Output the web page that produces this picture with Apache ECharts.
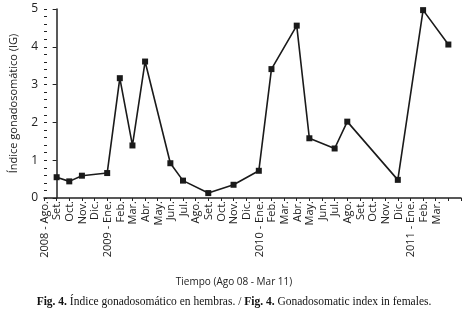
<!DOCTYPE html>
<html>
<head>
<meta charset="utf-8">
<script src="https://cdn.jsdelivr.net/npm/echarts@6/dist/echarts.min.js"></script>
<style>
  html, body { margin: 0; padding: 0; background: #fff; }
  #chart { width: 468px; height: 313px; }
</style>
</head>
<body>
<div id="chart"></div>
<script>
// month labels, Ago 2008 - Mar 2011
var months = [
  "2008 - Ago.", "Set.", "Oct.", "Nov.", "Dic.",
  "2009 - Ene.", "Feb.", "Mar.", "Abr.", "May.", "Jun.", "Jul.", "Ago.", "Set.", "Oct.", "Nov.", "Dic.",
  "2010 - Ene.", "Feb.", "Mar.", "Abr.", "May.", "Jun.", "Jul.", "Ago.", "Set.", "Oct.", "Nov.", "Dic.",
  "2011 - Ene.", "Feb.", "Mar."
];
// IG per month, null = no sample
var igValues = [
  0.55, 0.44, 0.59, null, 0.66,
  3.17, 1.39, 3.61, null, 0.92, 0.46, null, 0.13, null, 0.35, null, 0.72,
  3.41, null, 4.56, 1.58, null, 1.31, 2.02, null, null, null, 0.48, null,
  4.97, null, 4.06
];
var yTicks = [0, 1, 2, 3, 4, 5];

var points = [];
igValues.forEach(function (v, i) {
  if (v !== null) points.push([i, v]);
});

var font = "'Open Sans', sans-serif";
var chart = echarts.init(document.getElementById("chart"));

chart.setOption({
  animation: false,
  grid: { left: 43, right: 7, top: 9, bottom: 115 },
  xAxis: {
    type: "value",
    min: -1,
    max: 32,
    interval: 1,
    splitLine: { show: false },
    axisLine: { lineStyle: { color: "#222", width: 1.5 } },
    axisTick: { length: 3, lineStyle: { color: "#222" } },
    axisLabel: {
      rotate: 90,
      margin: 3,
      fontFamily: font,
      fontSize: 11,
      color: "#222",
      // the printed labels sit a bit left of their ticks
      verticalAlign: "bottom",
      lineHeight: 24,
      formatter: function (v) {
        return (v >= 0 && v < months.length) ? months[v] : "";
      }
    }
  },
  yAxis: [
    {
      type: "value",
      min: yTicks[0],
      max: yTicks[yTicks.length - 1],
      interval: 1,
      splitLine: { show: false },
      axisLine: { show: true, lineStyle: { color: "#222", width: 1.5 } },
      axisTick: { length: 4, lineStyle: { color: "#222" } },
      axisLabel: { fontFamily: font, fontSize: 12, color: "#222", margin: 6 },
      name: "Índice gonadosomático (IG)",
      nameLocation: "middle",
      nameGap: 25,
      nameTextStyle: { fontFamily: font, fontSize: 11, color: "#222" }
    },
    {
      // minor ticks, pointing inward
      type: "value",
      position: "left",
      min: 0,
      max: 5,
      interval: 0.2,
      splitLine: { show: false },
      axisLine: { show: false },
      axisTick: { inside: true, length: 3, lineStyle: { color: "#222" } },
      axisLabel: { show: false }
    }
  ],
  series: [
    {
      type: "line",
      data: points,
      clip: false,
      symbol: "rect",
      symbolSize: 6,
      itemStyle: { color: "#1a1a1a" },
      lineStyle: { color: "#1a1a1a", width: 1.6 }
    }
  ],
  graphic: [
    {
      type: "text",
      left: "center",
      top: 277,
      style: {
        text: "Tiempo (Ago 08 - Mar 11)",
        font: "10px 'Open Sans', sans-serif",
        fill: "#222"
      }
    },
    {
      type: "text",
      left: "center",
      top: 296,
      style: {
        text: "{b|Fig. 4.} Índice gonadosomático en hembras. / {b|Fig. 4.} Gonadosomatic index in females.",
        font: "11.5px 'Liberation Serif', serif",
        fill: "#111",
        rich: {
          b: { fontWeight: "bold", fontFamily: "'Liberation Serif', serif", fontSize: 11.5, fill: "#111" }
        }
      }
    }
  ]
});
</script>
</body>
</html>
